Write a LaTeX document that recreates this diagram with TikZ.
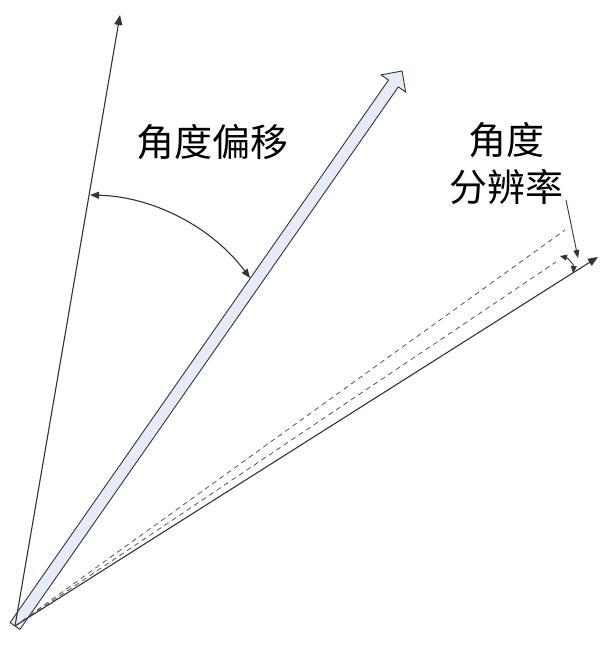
\documentclass[tikz,border=0pt]{standalone}
\usepackage{fontspec}
\newfontfamily\cjk{Noto Sans CJK SC}
\usetikzlibrary{arrows.meta}
\definecolor{ln}{HTML}{333333}
\definecolor{dashc}{HTML}{555555}
\definecolor{fillb}{HTML}{E6ECF7}
\tikzset{
  tipend/.style={-{Triangle[length=10pt,width=8pt]}},
  tipboth/.style={{Triangle[length=9pt,width=7pt]}-{Triangle[length=9pt,width=7pt]}},
  ray/.style={draw=ln, line width=1.1pt},
  dray/.style={draw=dashc, line width=0.8pt, dash pattern=on 5pt off 4pt},
  lbl/.style={font=\cjk\fontsize{38}{47}\selectfont, align=center, inner sep=0pt, text=black}
}
\begin{document}
\begin{tikzpicture}[x=1pt,y=-1pt]
\useasboundingbox (0,0) rectangle (615,645);
% key points
\coordinate (O) at (15,626);
\coordinate (L) at (120,15);
\coordinate (R) at (598,257);
\coordinate (D1) at (565,230);
\coordinate (D2) at (556,262);
% big arrow (band)
\draw[draw=ln, fill=fillb, line width=0.9pt, line join=miter]
  (19.9,629.4) -- (398.3,86.9) -- (405.7,92.1) -- (402,71) -- (381.1,74.9)
  -- (388.5,80.1) -- (10.1,622.6) -- cycle;
% rays
\draw[ray, tipend] (O) -- (L);
\draw[ray, tipend] (O) -- (R);
\draw[dray] (O) -- (D1);
\draw[dray] (O) -- (D2);
% angle offset arc
\coordinate (A1) at (90,195);
\coordinate (A2) at (250,278);
\draw[ray, tipboth] (A1) .. controls (153,196.5) and (212,227) .. (A2);
% angle resolution arc
\coordinate (B1) at (560,256);
\coordinate (B2) at (573,273);
\draw[ray, line width=0.9pt, {Triangle[length=7pt,width=6pt]}-{Triangle[length=7pt,width=6pt]}]
  (B1) .. controls (568,258) and (574,265) .. (B2);
% labels
\node[lbl] (t1) at (212,142) {角度偏移};
\node[lbl] (t2) at (506,164) {角度\\分辨率};
\coordinate (P1) at (566,200);
\coordinate (P2) at (578,258);
\draw[ray, line width=0.9pt, -{Triangle[length=8pt,width=6pt]}] (P1) -- (P2);
\end{tikzpicture}
\end{document}
